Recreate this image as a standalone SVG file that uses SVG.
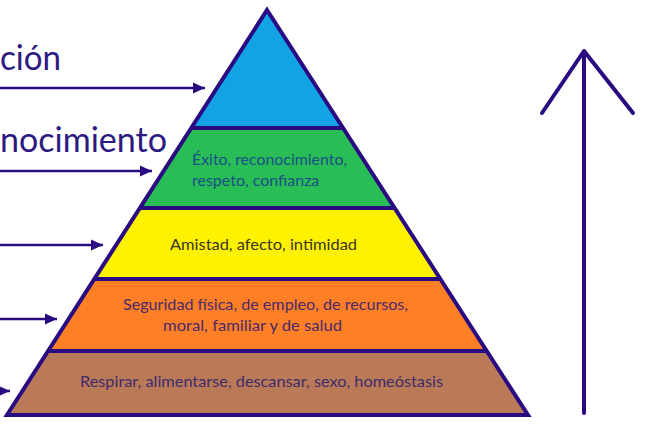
<svg xmlns="http://www.w3.org/2000/svg" width="662" height="438" viewBox="0 0 662 438">
<style>
.big{font-family:Lato,"Open Sans","Liberation Sans",sans-serif;font-size:34px;fill:#2D1A80}
.lbl{font-family:Lato,"Open Sans","Liberation Sans",sans-serif;font-size:16px}
.edge{stroke:#2A0A80;stroke-width:4;fill:none;stroke-linejoin:miter}
.conn{stroke:#2A0A80;stroke-width:2.5;fill:none}
.up{stroke:#2A0A80;stroke-width:4;fill:none;stroke-linecap:round;stroke-linejoin:round}
</style>
<defs>
<marker id="ah" viewBox="0 0 12 12" refX="12" refY="6" markerWidth="12" markerHeight="12" markerUnits="userSpaceOnUse" orient="auto">
<path d="M0,0.5 L12,6 L0,11.5 Z" fill="#2A0A80"/>
</marker>
</defs>
<rect width="662" height="438" fill="#ffffff"/>
<text class="big" x="0" y="70" textLength="61" lengthAdjust="spacingAndGlyphs">ción</text>
<text class="big" x="0" y="152" textLength="167" lengthAdjust="spacingAndGlyphs">nocimiento</text>
<g id="level5">
<polygon points="267,10 343,128 191,128" fill="#12A2E6"/>
</g>
<g id="level4">
<polygon points="191,128 343,128 395,208 140,208" fill="#29BD55"/>
<text class="lbl" x="192" y="165" fill="#1B4F86" textLength="155" lengthAdjust="spacingAndGlyphs">Éxito, reconocimiento,</text>
<text class="lbl" x="192" y="186" fill="#1B4F86">respeto, confianza</text>
</g>
<g id="level3">
<polygon points="140,208 395,208 440,279 94,279" fill="#FFF200"/>
<text class="lbl" x="170" y="250" fill="#3A3522" textLength="187" lengthAdjust="spacingAndGlyphs">Amistad, afecto, intimidad</text>
</g>
<g id="level2">
<polygon points="94,279 440,279 487,351 48,351" fill="#FF7F27"/>
<text class="lbl" x="123" y="310" fill="#4A2A6A" textLength="285" lengthAdjust="spacingAndGlyphs">Seguridad física, de empleo, de recursos,</text>
<text class="lbl" x="163" y="331" fill="#4A2A6A" textLength="179" lengthAdjust="spacingAndGlyphs">moral, familiar y de salud</text>
</g>
<g id="level1">
<polygon points="48,351 487,351 528,415 7,415" fill="#BA7A58"/>
<text class="lbl" x="80" y="387" fill="#3E2C6A" textLength="363" lengthAdjust="spacingAndGlyphs">Respirar, alimentarse, descansar, sexo, homeóstasis</text>
</g>
<g id="outline">
<polygon class="edge" points="267,10 528,415 7,415"/>
<line class="edge" x1="191" y1="128" x2="343" y2="128"/>
<line class="edge" x1="140" y1="208" x2="395" y2="208"/>
<line class="edge" x1="94" y1="279" x2="440" y2="279"/>
<line class="edge" x1="48" y1="351" x2="487" y2="351"/>
</g>
<g id="connectors">
<line class="conn" x1="0" y1="88" x2="205" y2="88" marker-end="url(#ah)"/>
<line class="conn" x1="0" y1="171" x2="152" y2="171" marker-end="url(#ah)"/>
<line class="conn" x1="0" y1="245" x2="103" y2="245" marker-end="url(#ah)"/>
<line class="conn" x1="0" y1="319" x2="57" y2="319" marker-end="url(#ah)"/>
<line class="conn" x1="-10" y1="391" x2="10" y2="391" marker-end="url(#ah)"/>
<g id="up-arrow">
<line class="up" x1="584" y1="52" x2="584" y2="413"/>
<polyline class="up" points="542,113 584,51 633,113"/>
</g>
</g>
</svg>
